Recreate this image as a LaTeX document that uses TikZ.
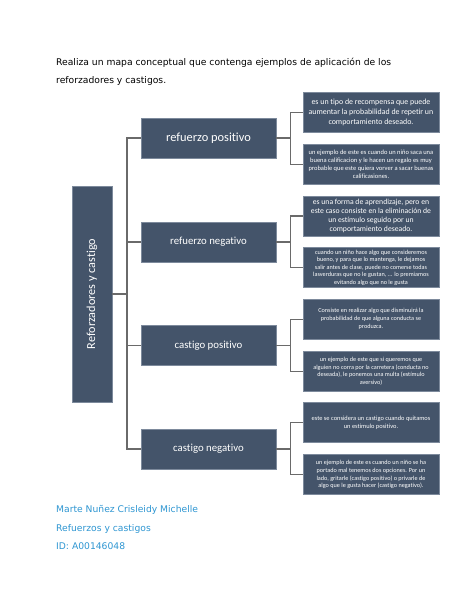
\documentclass[tikz,border=0pt]{standalone}
\usepackage{fontspec}
\setmainfont{DejaVu Sans}
\newfontfamily\boxfont[Ligatures=NoCommon]{Carlito}
\definecolor{boxfill}{HTML}{44546A}
\definecolor{boxedge}{HTML}{7D8A9C}
\definecolor{linecol}{HTML}{6A6A6A}
\definecolor{authorblue}{HTML}{2E96D2}
\begin{document}
\begin{tikzpicture}[x=1pt,y=-1pt,
  base/.style={fill=boxfill, draw=boxedge, line width=0.5pt, text=white, align=center, inner sep=0pt},
  rootbox/.style={base, minimum width=40pt, minimum height=216pt},
  lvltwo/.style={base, minimum width=135pt, minimum height=40pt},
  leaf/.style={base, minimum width=136pt, minimum height=40pt},
  conn/.style={draw=linecol, line width=1.1pt},
  bodytext/.style={inner sep=0pt, align=left, font=\fontsize{9.2}{18.5}\selectfont},
  authortext/.style={inner sep=0pt, text=authorblue, font=\fontsize{9.2}{18}\selectfont}]
\useasboundingbox (0,0) rectangle (474,613);
\fill[white] (0,0) rectangle (474,613);

% title
\node[bodytext, anchor=north west] (title) at (56,57.5)
  {Realiza un mapa conceptual que contenga ejemplos de aplicación de los\\reforzadores y castigos.};

% root
\node[rootbox] (root) at (92,294) {};
\node[rotate=90, text=white, inner sep=0pt, font=\boxfont\fontsize{12.2}{14}\selectfont] (rootlabel) at (root.center) {Reforzadores y castigo};

% level two
\node[lvltwo, font=\boxfont\fontsize{12.4}{14}\selectfont] (p1) at (208.5,138) {refuerzo positivo};
\node[lvltwo, font=\boxfont\fontsize{10.8}{12}\selectfont] (p2) at (208.5,242) {refuerzo negativo};
\node[lvltwo, font=\boxfont\fontsize{10.8}{12}\selectfont] (p3) at (208.5,345.5) {castigo positivo};
\node[lvltwo, font=\boxfont\fontsize{10.8}{12}\selectfont] (p4) at (208.5,449) {castigo negativo};

% leaves
\node[leaf, font=\boxfont\fontsize{7.9}{10}\selectfont] (a1) at (371,112.7)
  {es un tipo de recompensa que puede\\aumentar la probabilidad de repetir un\\comportamiento deseado.};
\node[leaf, font=\boxfont\fontsize{6.5}{8.2}\selectfont] (b1) at (371,164.2)
  {un ejemplo de este es cuando un niño saca una\\buena calificacion y le hacen un regalo es muy\\probable que este quiera vorver a sacar buenas\\calificasiones.};
\node[leaf, font=\boxfont\fontsize{7.7}{8.8}\selectfont] (a2) at (371,216)
  {es una forma de aprendizaje, pero en\\este caso consiste en la eliminación de\\un estímulo seguido por un\\comportamiento deseado.};
\node[leaf, font=\boxfont\fontsize{6.2}{7.5}\selectfont] (b2) at (371,267.7)
  {cuando un niño hace algo que consideremos\\bueno, y para que lo mantenga, le dejamos\\salir antes de clase, puede no comerse todas\\lasverduras que no le gustan, ... lo premiamos\\evitando algo que no le gusta};
\node[leaf, font=\boxfont\fontsize{6.2}{8}\selectfont] (a3) at (371,319.3)
  {Consiste en realizar algo que disminuirá la\\probabilidad de que alguna conducta se\\produzca.};
\node[leaf, font=\boxfont\fontsize{6.2}{7.5}\selectfont] (b3) at (371,371.3)
  {un ejemplo de este que si queremos que\\alguien no corra por la carretera (conducta no\\deseada), le ponemos una multa (estímulo\\aversivo)};
\node[leaf, font=\boxfont\fontsize{6.4}{8}\selectfont] (a4) at (371,422.7)
  {este se considera un castigo cuando quitamos\\un estimulo positivo.};
\node[leaf, font=\boxfont\fontsize{6.2}{7.6}\selectfont] (b4) at (371,474.7)
  {un ejemplo de este es cuando un niño se ha\\portado mal tenemos dos opciones. Por un\\lado, gritarle (castigo positivo) o privarle de\\algo que le gusta hacer (castigo negativo).};

% connectors: trunk
\coordinate (tk) at (127,294);
\draw[conn] (root.east) -- (tk);
\foreach \n in {p1,p2,p3,p4} { \draw[conn] (\n.west) -| (tk); }

% connectors: brackets
\foreach \p/\a/\b in {p1/a1/b1, p2/a2/b2, p3/a3/b3, p4/a4/b4} {
  \coordinate (bk\p) at ([xshift=14pt]\p.east);
  \draw[conn] (\p.east) -- (bk\p);
  \draw[conn] (\a.west) -| (bk\p);
  \draw[conn] (\b.west) -| (bk\p);
}

% author lines
\node[authortext, anchor=base west] (author) at (56,512.5) {Marte Nuñez Crisleidy Michelle};
\node[authortext, anchor=base west] (topic) at (56,531) {Refuerzos y castigos};
\node[authortext, anchor=base west] (ident) at (56,549.5) {ID: A00146048};
\end{tikzpicture}
\end{document}
